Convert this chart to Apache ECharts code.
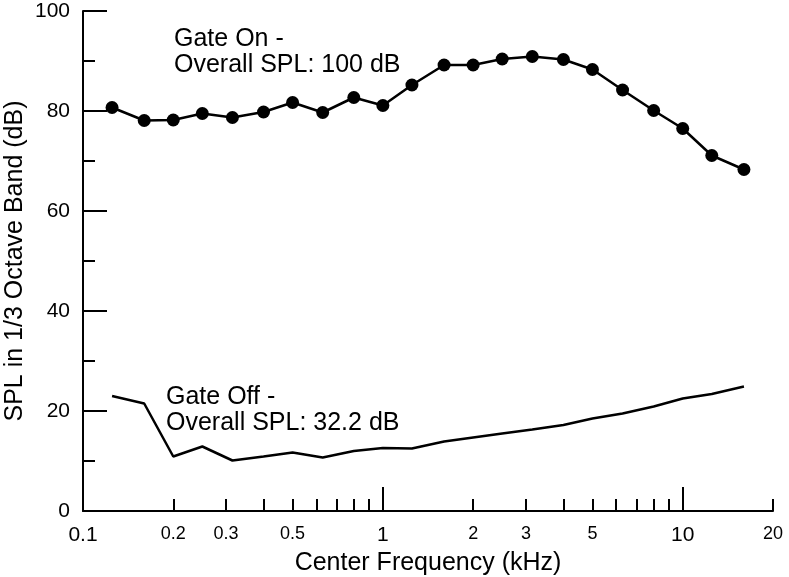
<!DOCTYPE html>
<html>
<head>
<meta charset="utf-8">
<script src="https://cdn.jsdelivr.net/npm/echarts@6/dist/echarts.min.js"></script>
<style>html,body{margin:0;padding:0;background:#fff}#c{width:789px;height:577px}</style>
</head>
<body>
<div id="c"></div>
<script>
const freqs = [0.125, 0.16, 0.2, 0.25, 0.315, 0.4, 0.5, 0.63, 0.8, 1, 1.25, 1.6, 2, 2.5, 3.15, 4, 5, 6.3, 8, 10, 12.5, 16];
const gateOn = [80.7, 78.1, 78.2, 79.5, 78.7, 79.8, 81.7, 79.7, 82.7, 81.1, 85.2, 89.2, 89.2, 90.4, 90.9, 90.3, 88.3, 84.2, 80.1, 76.5, 71.1, 68.3];
const gateOff = [23.0, 21.5, 10.9, 12.9, 10.1, 10.9, 11.7, 10.7, 12.0, 12.6, 12.5, 13.9, 14.7, 15.5, 16.3, 17.2, 18.5, 19.5, 20.9, 22.5, 23.4, 24.9];
const xLabels = [0.1, 0.2, 0.3, 0.5, 1, 2, 3, 5, 10, 20];
const bigLabels = [0.1, 1, 10];
const majorTicks = [1, 10];
const minorTicks = [0.2, 0.3, 0.4, 0.5, 0.6, 0.7, 0.8, 0.9, 2, 3, 4, 5, 6, 7, 8, 9, 20];

const FONT = '"Liberation Sans", Arial, sans-serif';
const chart = echarts.init(document.getElementById('c'));
const axisCommon = {
  type: 'log', logBase: 10, min: 0.1, max: 20,
  splitLine: {show: false}, minorSplitLine: {show: false}
};
chart.setOption({
  animation: false,
  backgroundColor: '#fff',
  grid: {left: 83, right: 16, top: 11, bottom: 66, containLabel: false, outerBoundsMode: 'none'},
  xAxis: [
    Object.assign({}, axisCommon, {
      name: 'Center Frequency (kHz)', nameLocation: 'middle', nameGap: 40, nameMoveOverlap: false,
      nameTextStyle: {fontFamily: FONT, fontSize: 25, color: '#000'},
      axisLine: {lineStyle: {color: '#000', width: 2}},
      axisTick: {show: true, inside: true, length: 24, customValues: majorTicks, lineStyle: {color: '#000', width: 2}},
      axisLabel: {
        customValues: xLabels, margin: 14, color: '#000', fontFamily: FONT,
        formatter: function (v) { return bigLabels.indexOf(+v) >= 0 ? '{b|' + v + '}' : '{s|' + v + '}'; },
        rich: {b: {fontSize: 21, fontFamily: FONT, color: '#000'}, s: {fontSize: 18, fontFamily: FONT, color: '#000'}}
      }
    }),
    Object.assign({}, axisCommon, {
      position: 'bottom',
      axisLine: {show: false},
      axisTick: {show: true, inside: true, length: 12, customValues: minorTicks, lineStyle: {color: '#000', width: 2}},
      axisLabel: {show: false}
    })
  ],
  yAxis: {
    type: 'value', min: 0, max: 100, interval: 20,
    name: 'SPL in 1/3 Octave Band (dB)', nameLocation: 'middle', nameGap: 55, nameMoveOverlap: false,
    nameTextStyle: {fontFamily: FONT, fontSize: 25, color: '#000'},
    splitLine: {show: false},
    axisLine: {show: true, lineStyle: {color: '#000', width: 2}},
    axisTick: {show: true, inside: true, length: 24, lineStyle: {color: '#000', width: 2}},
    minorTick: {show: true, splitNumber: 2, length: 12, lineStyle: {color: '#000', width: 2}},
    axisLabel: {margin: 13, color: '#000', fontFamily: FONT, fontSize: 21}
  },
  graphic: [
    {type: 'text', left: 174, top: 26, style: {text: 'Gate On -\nOverall SPL: 100 dB', font: '25px ' + FONT, fill: '#000', lineHeight: 26}},
    {type: 'text', left: 166, top: 384, style: {text: 'Gate Off -\nOverall SPL: 32.2 dB', font: '25px ' + FONT, fill: '#000', lineHeight: 26}}
  ],
  series: [
    {
      type: 'line', xAxisIndex: 0,
      data: freqs.map((f, i) => [f, gateOn[i]]),
      symbol: 'circle', symbolSize: 13,
      itemStyle: {color: '#000'}, lineStyle: {color: '#000', width: 2.5}
    },
    {
      type: 'line', xAxisIndex: 0,
      data: freqs.map((f, i) => [f, gateOff[i]]),
      symbol: 'none', lineStyle: {color: '#000', width: 2.5}
    }
  ]
});
</script>
</body>
</html>
